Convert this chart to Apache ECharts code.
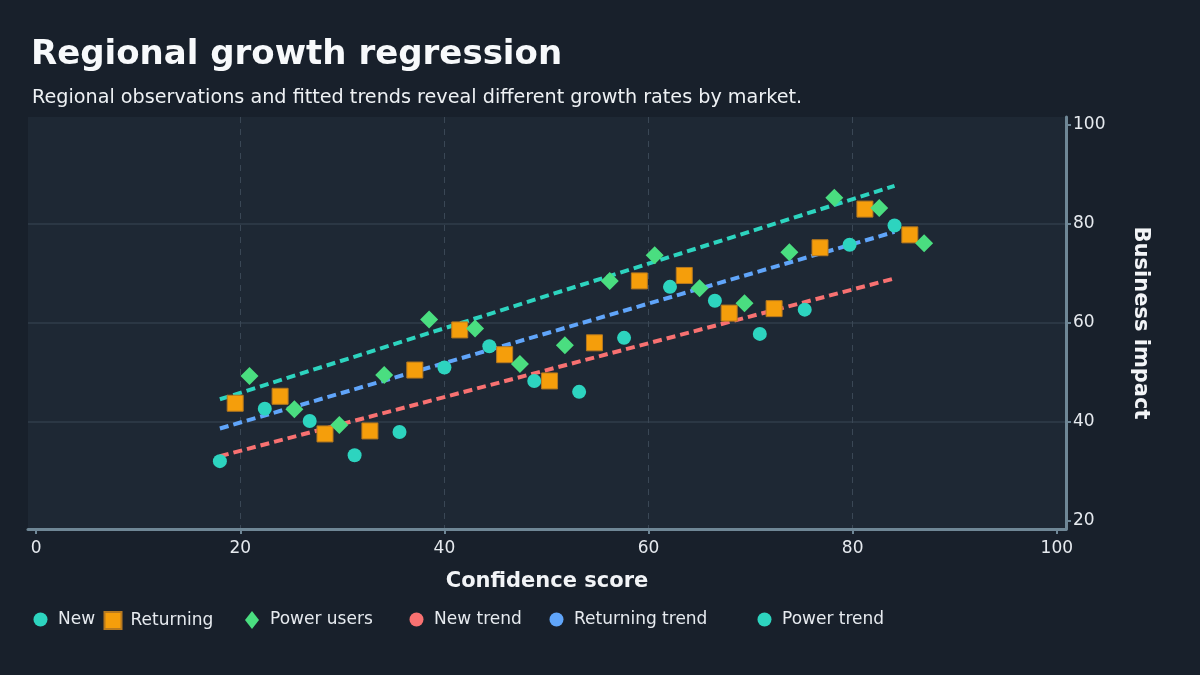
<!DOCTYPE html>
<html><head><meta charset="utf-8">
<script src="https://cdn.jsdelivr.net/npm/echarts@6/dist/echarts.min.js"></script>
<style>html,body{margin:0;padding:0;background:#18202b;}#c{width:1200px;height:675px;}</style>
</head><body><div id="c"></div>
<script>
// ---- data ----
const NEW_X = [18.0, 22.4, 26.8, 31.2, 35.6, 40.0, 44.4, 48.8, 53.2, 57.6, 62.1, 66.5, 70.9, 75.3, 79.7, 84.1];
const NEW_Y = [32.1, 42.7, 40.2, 33.3, 38.0, 51.0, 55.3, 48.3, 46.1, 57.0, 67.3, 64.5, 57.8, 62.7, 75.8, 79.7];
const RET_X = [19.5, 23.9, 28.3, 32.7, 37.1, 41.5, 45.9, 50.3, 54.7, 59.1, 63.5, 67.9, 72.3, 76.8, 81.2, 85.6];
const RET_Y = [43.8, 45.2, 37.6, 38.2, 50.5, 58.6, 53.6, 48.3, 56.0, 68.5, 69.6, 62.0, 62.9, 75.2, 83.0, 77.8];
const POW_X = [20.9, 25.3, 29.7, 34.1, 38.5, 43.0, 47.4, 51.8, 56.2, 60.6, 65.0, 69.4, 73.8, 78.2, 82.6, 87.0];
const POW_Y = [49.3, 42.6, 39.4, 49.5, 60.7, 58.9, 51.7, 55.5, 68.5, 73.7, 67.0, 64.0, 74.3, 85.3, 83.2, 76.1];
const TREND_X = [18.0, 84.1];
const NEW_TREND_Y = [33.1, 69.0];
const RET_TREND_Y = [38.7, 78.4];
const POW_TREND_Y = [44.6, 87.7];
const X_TICKS = [0, 20, 40, 60, 80, 100];
const Y_TICKS = [20, 40, 60, 80, 100];
const SERIES_NAMES = ['New', 'Returning', 'Power users', 'New trend', 'Returning trend', 'Power trend'];

const zip = (xs, ys) => xs.map((x, i) => [x, ys[i]]);
const FONT = 'DejaVu Sans';
const TEXT = '#e6eaef';
const AXIS = '#6f8796';

const chart = echarts.init(document.getElementById('c'), null, { renderer: 'canvas' });

// legend layout (one legend per entry, as in the reference's uneven spacing)
const legendLeft = [33.5, 103.5, 245, 409.5, 549.5, 757.5];
const legendW = [25, 17, 14, 25, 25, 25];
const legendH = [14, 17, 18, 14, 14, 14];
const legendPad = [0, 4, 6, 0, 0, 0];
const legendIcon = ['circle', 'rect', 'diamond', 'circle', 'circle', 'circle'];

const trendLine = (name, color, ys) => ({
  name, type: 'line', data: zip(TREND_X, ys), showSymbol: false, symbol: 'circle', z: 1,
  itemStyle: { color }, lineStyle: { color, width: 4, type: [9, 5] }, silent: true, animation: false
});

chart.setOption({
  backgroundColor: '#18202b',
  animation: false,
  title: [
    { text: 'Regional growth regression', left: 31, top: 38, padding: 0,
      textStyle: { fontFamily: FONT, fontSize: 34, fontWeight: 'bold', color: '#f7f9fb' } },
    { text: 'Regional observations and fitted trends reveal different growth rates by market.', left: 32, top: 89, padding: 0,
      textStyle: { fontFamily: FONT, fontSize: 19.2, fontWeight: 'normal', color: '#eef1f4' } }
  ],
  legend: SERIES_NAMES.map((n, i) => ({
    data: [{ name: n, icon: legendIcon[i] }],
    left: legendLeft[i], top: 611, padding: 0,
    itemWidth: legendW[i], itemHeight: legendH[i], itemGap: 0, symbolKeepAspect: true,
    textStyle: { fontFamily: FONT, fontSize: 17, color: TEXT, padding: [0, 0, 0, legendPad[i]] }
  })),
  grid: { left: 28, right: 134, top: 117, bottom: 146, show: true, backgroundColor: '#1e2834', borderWidth: 0 },
  xAxis: {
    type: 'value', min: -0.8, max: 100.9, minInterval: 20, maxInterval: 20,
    name: 'Confidence score', nameLocation: 'middle', nameGap: 42,
    nameTextStyle: { fontFamily: FONT, fontSize: 21, fontWeight: 'bold', color: '#f2f4f7' },
    axisLine: { show: true, onZero: false, lineStyle: { color: AXIS, width: 3 } },
    axisTick: { show: true, length: 5, customValues: X_TICKS, lineStyle: { color: AXIS, width: 2 } },
    axisLabel: { customValues: X_TICKS, margin: 11, fontFamily: FONT, fontSize: 17, color: TEXT },
    splitLine: { show: true, showMinLine: false, showMaxLine: false, lineStyle: { color: '#3a4755', type: [6, 6], width: 1 } }
  },
  yAxis: {
    type: 'value', position: 'right', min: 18.4, max: 101.6, minInterval: 20, maxInterval: 20,
    name: 'Business impact', nameLocation: 'middle', nameGap: 64, nameRotate: -90,
    nameTextStyle: { fontFamily: FONT, fontSize: 21, fontWeight: 'bold', color: '#f2f4f7' },
    axisLine: { show: true, onZero: false, lineStyle: { color: AXIS, width: 3 } },
    axisTick: { show: true, length: 5, customValues: Y_TICKS, lineStyle: { color: AXIS, width: 2 } },
    axisLabel: { customValues: Y_TICKS, margin: 7, fontFamily: FONT, fontSize: 17, color: TEXT },
    splitLine: { show: true, showMinLine: false, showMaxLine: false, lineStyle: { color: '#313d4a', type: 'solid', width: 1.5 } }
  },
  series: [
    trendLine('New trend', '#f87171', NEW_TREND_Y),
    trendLine('Returning trend', '#60a5fa', RET_TREND_Y),
    trendLine('Power trend', '#2dd4bf', POW_TREND_Y),
    { name: 'New', type: 'scatter', data: zip(NEW_X, NEW_Y), symbol: 'circle', symbolSize: 14, z: 3,
      itemStyle: { color: '#2dd4bf', opacity: 1 } },
    { name: 'Returning', type: 'scatter', data: zip(RET_X, RET_Y), symbol: 'rect', symbolSize: 16, z: 3,
      itemStyle: { color: '#f59e0b', borderColor: '#b7791f', borderWidth: 1, opacity: 1 } },
    { name: 'Power users', type: 'scatter', data: zip(POW_X, POW_Y), symbol: 'diamond', symbolSize: 18, z: 3,
      itemStyle: { color: '#4ade80', opacity: 1 } }
  ]
});
</script></body></html>
